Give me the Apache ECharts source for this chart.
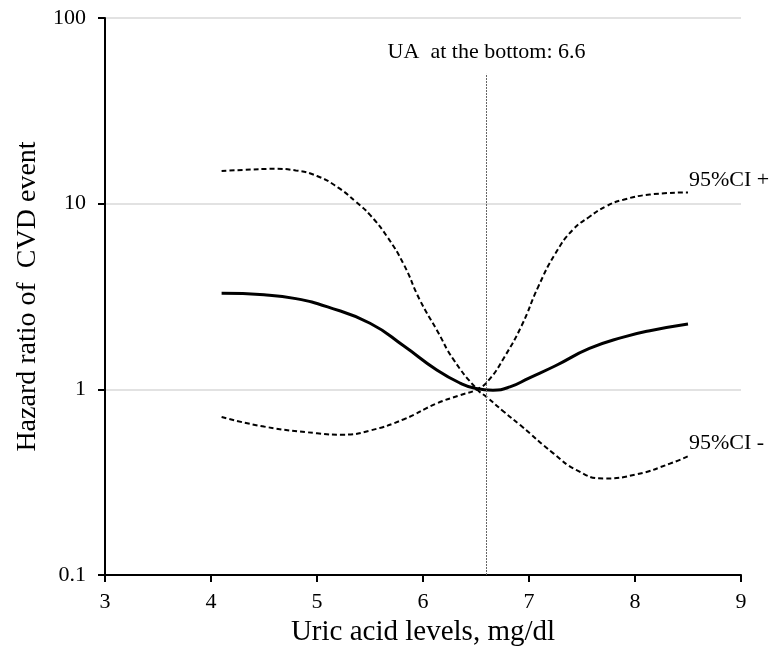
<!DOCTYPE html>
<html>
<head>
<meta charset="UTF-8">
<title>Hazard ratio of CVD event</title>
<script src="https://cdn.jsdelivr.net/npm/echarts@6/dist/echarts.min.js"></script>
<style>
  html, body { margin: 0; padding: 0; background: #fff; }
  #main { width: 776px; height: 656px; }
</style>
</head>
<body>
<div id="main"></div>
<script>
// uric acid level (mg/dl) and hazard ratio
var hrX = [4.1, 4.5, 4.8, 5.1, 5.5, 5.82, 6.13, 6.35, 6.5, 6.66, 6.82, 7.0, 7.25, 7.57, 7.89, 8.14, 8.5];
var hrY = [3.29, 3.23, 3.08, 2.78, 2.27, 1.71, 1.27, 1.08, 1.01, 0.99, 1.03, 1.15, 1.34, 1.66, 1.91, 2.07, 2.25];

// dashed band curve that ends high on the right ("95%CI +")
var ciPlusX = [4.1, 4.5, 5.0, 5.25, 5.5, 5.82, 6.13, 6.35, 6.51, 6.62, 6.77, 6.93, 7.09, 7.25, 7.41, 7.57, 7.73, 7.89, 8.14, 8.5];
var ciPlusY = [0.71, 0.63, 0.58, 0.57, 0.60, 0.69, 0.84, 0.93, 1.0, 1.12, 1.5, 2.2, 3.6, 5.4, 7.2, 8.5, 9.7, 10.5, 11.2, 11.5];

// dashed band curve that ends low on the right ("95%CI -")
var ciMinusX = [4.1, 4.3, 4.6, 4.8, 5.0, 5.2, 5.37, 5.5, 5.66, 5.82, 5.97, 6.13, 6.29, 6.51, 6.6, 6.76, 6.92, 7.23, 7.45, 7.7, 8.02, 8.33, 8.5];
var ciMinusY = [15.0, 15.2, 15.4, 15.1, 14.1, 12.2, 10.2, 8.7, 6.66, 4.69, 3.03, 2.09, 1.44, 1.0, 0.91, 0.76, 0.64, 0.452, 0.367, 0.331, 0.349, 0.398, 0.436];

var UA_BOTTOM = 6.6;
var xTicks = [3, 9, 1];        // min, max, interval
var yTicks = [0.1, 100];       // log axis min, max

var FONT = "'Liberation Serif', 'Times New Roman', serif";

function pairs(xs, ys) {
  var out = [];
  for (var i = 0; i < xs.length; i++) out.push([xs[i], ys[i]]);
  return out;
}

var myChart = echarts.init(document.getElementById('main'));

var option = {
  animation: false,
  backgroundColor: '#fff',
  grid: { left: 105, right: 35, top: 18, bottom: 81 },
  xAxis: {
    type: 'value',
    min: xTicks[0],
    max: xTicks[1],
    interval: xTicks[2],
    name: 'Uric acid levels, mg/dl',
    nameLocation: 'middle',
    nameGap: 43,
    nameTextStyle: { color: '#000', fontSize: 29, fontFamily: FONT },
    axisLine: { lineStyle: { color: '#000', width: 2 } },
    axisTick: { show: true, length: 7, lineStyle: { color: '#000', width: 2 } },
    axisLabel: { color: '#000', fontSize: 22, fontFamily: FONT, margin: 16 },
    splitLine: { show: false }
  },
  yAxis: {
    type: 'log',
    logBase: 10,
    min: yTicks[0],
    max: yTicks[1],
    name: 'Hazard ratio of  CVD event',
    nameLocation: 'middle',
    nameGap: 62,
    nameTextStyle: { color: '#000', fontSize: 28, fontFamily: FONT },
    axisLine: { show: true, lineStyle: { color: '#000', width: 2 } },
    axisTick: { show: true, length: 7, lineStyle: { color: '#000', width: 2 } },
    axisLabel: {
      color: '#000', fontSize: 22, fontFamily: FONT, margin: 19,
      formatter: function (v) { return String(parseFloat(v.toPrecision(3))); }
    },
    splitLine: { show: true, lineStyle: { color: '#d9d9d9', width: 1.5 } }
  },
  series: [
    {
      name: 'HR',
      type: 'line',
      data: pairs(hrX, hrY),
      smooth: 0.5,
      showSymbol: false,
      z: 3,
      lineStyle: { color: '#000', width: 3 },
      markLine: {
        silent: true,
        symbol: 'none',
        lineStyle: { color: '#666', width: 1, type: [2, 1] },
        label: {
          show: true,
          position: 'end',
          distance: 11,
          formatter: 'UA  at the bottom: ' + UA_BOTTOM,
          color: '#000',
          fontSize: 22,
          fontFamily: FONT
        },
        data: [[{ coord: [UA_BOTTOM, 0.1] }, { coord: [UA_BOTTOM, 50] }]]
      }
    },
    {
      name: '95%CI +',
      type: 'line',
      data: pairs(ciPlusX, ciPlusY),
      smooth: 0.5,
      showSymbol: false,
      lineStyle: { color: '#000', width: 2, type: [5, 3] },
      endLabel: {
        show: true,
        formatter: '95%CI +',
        distance: 1,
        offset: [0, -12],
        color: '#000',
        fontSize: 22,
        fontFamily: FONT
      }
    },
    {
      name: '95%CI -',
      type: 'line',
      data: pairs(ciMinusX, ciMinusY),
      smooth: 0.5,
      showSymbol: false,
      lineStyle: { color: '#000', width: 2, type: [5, 3] },
      endLabel: {
        show: true,
        formatter: '95%CI -',
        distance: 1,
        offset: [0, -13],
        color: '#000',
        fontSize: 22,
        fontFamily: FONT
      }
    }
  ]
};

myChart.setOption(option);
</script>
</body>
</html>
